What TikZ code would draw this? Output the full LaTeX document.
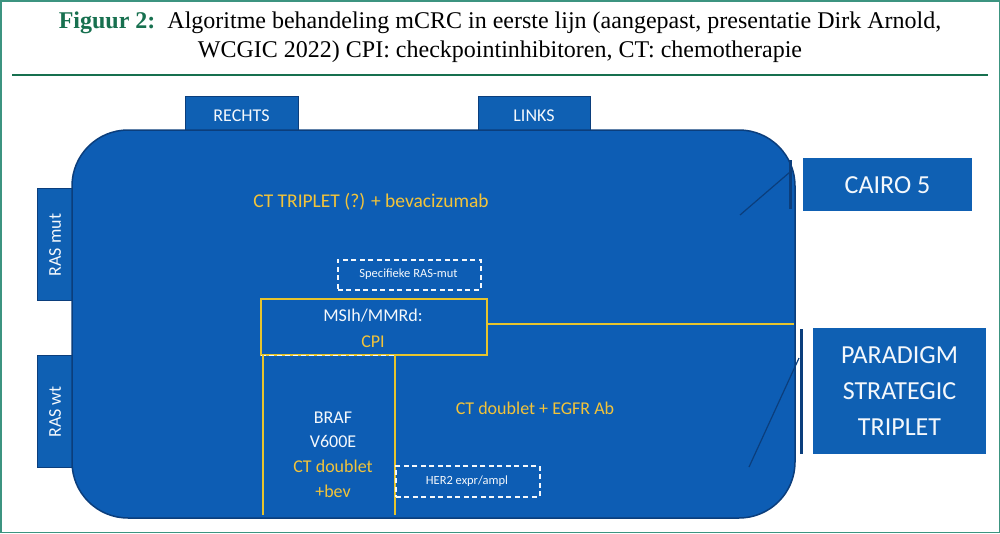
\documentclass[tikz,border=0pt]{standalone}
\usepackage{fontspec}
\setmainfont{Liberation Serif}
\newfontfamily\carlitofont{Carlito}
\definecolor{framegreen}{HTML}{3C9480}
\definecolor{titlegreen}{HTML}{17704F}
\definecolor{boxblue}{HTML}{0D5DB4}
\definecolor{tabblue}{HTML}{0F60B3}
\definecolor{edgeblue}{HTML}{0B3E7C}
\definecolor{gold}{HTML}{F2C33A}
\definecolor{goldline}{HTML}{E6C42E}
\definecolor{paleWhite}{HTML}{F4F8FC}
\tikzset{
  px/.style={x=1pt,y=-1pt},
  tabbox/.style={draw=edgeblue,line width=1pt,fill=tabblue,inner sep=0pt},
  sidebox/.style={fill=tabblue,inner sep=0pt},
  goldtxt/.style={text=gold,font=\carlitofont\fontsize{18}{24}\selectfont,align=center},
  whitetxt/.style={text=paleWhite,font=\carlitofont\fontsize{18}{24}\selectfont,align=center},
  dashbox/.style={draw=paleWhite,dash pattern=on 5pt off 3.5pt,line width=1.6pt,inner sep=0pt},
  smalltxt/.style={text=paleWhite,font=\carlitofont\fontsize{12.5}{14}\selectfont},
  goldrule/.style={draw=goldline,line width=1.8pt},
  pointer/.style={draw=edgeblue,line width=1.2pt},
  bar/.style={draw=edgeblue,line width=3pt},
}
\begin{document}
\begin{tikzpicture}[px]
\useasboundingbox (0,0) rectangle (1000,533);
\fill[white] (0,0) rectangle (1000,533);
\draw[framegreen,line width=1.5pt] (0.75,0.75) rectangle (999.25,532.25);
% title
\node[font=\fontsize{24}{29}\selectfont,align=center,inner sep=0pt] (title) at (500,37)
  {{\bfseries\color{titlegreen}Figuur 2:}\ \ Algoritme behandeling mCRC in eerste lijn (aangepast, presentatie Dirk Arnold,\\
   WCGIC 2022) CPI: checkpointinhibitoren, CT: chemotherapie};
\draw[titlegreen,line width=2.5pt] (12,75) -- (988,75);
% tabs
\node[tabbox,minimum width=113pt,minimum height=40pt,anchor=north west] (rechts) at (185,96) {};
\node[tabbox,minimum width=112pt,minimum height=40pt,anchor=north west] (links) at (478,96) {};
\node[tabbox,minimum width=40pt,minimum height=112pt,anchor=north west] (rasmut) at (37,188) {};
\node[tabbox,minimum width=40pt,minimum height=112pt,anchor=north west] (raswt) at (37,355) {};
% main shape
\node[draw=edgeblue,line width=1.5pt,fill=boxblue,rounded corners=56pt,minimum width=723pt,minimum height=388pt,inner sep=0pt] (main) at (433.5,324) {};
% tab labels
\node[text=paleWhite,font=\carlitofont\fontsize{18}{20}\selectfont] (lr) at (241.5,116) {RECHTS};
\node[text=paleWhite,font=\carlitofont\fontsize{18}{20}\selectfont] (ll) at (534,116) {LINKS};
\node[text=paleWhite,font=\carlitofont\fontsize{18}{20}\selectfont,rotate=90] (lm) at (55,245) {RAS mut};
\node[text=paleWhite,font=\carlitofont\fontsize{18}{20}\selectfont,rotate=90] (lw) at (55,412) {RAS wt};
% texts
\node[goldtxt,font=\carlitofont\fontsize{19.5}{24}\selectfont] (triplet) at (371,202) {CT TRIPLET (?) + bevacizumab};
\node[dashbox,minimum width=143pt,minimum height=30pt,anchor=north west] (spec) at (337,259) {};
\node[smalltxt] (spect) at (408.5,274) {Specifieke RAS-mut};
\node[draw=goldline,line width=1.8pt,minimum width=226pt,minimum height=56pt,inner sep=0pt,anchor=north west] (msi) at (260,298) {};
\node[whitetxt] (msit) at (373,316) {MSIh/MMRd:};
\node[goldtxt] (cpi) at (373,342) {CPI};
\coordinate (msiout) at ([yshift=3pt]msi.east);
\coordinate (rightedge) at (794,323);
\draw[goldrule] (msiout) -- (msiout -| rightedge);
\coordinate (dl) at (261,355.5);
\coordinate (dr) at (395,355.5);
\draw[draw=paleWhite,dash pattern=on 5pt off 3pt,line width=1.5pt] (dl) -- (dr);
\coordinate (v1t) at (263,354);
\coordinate (v1b) at (263,515);
\coordinate (v2b) at (395,515);
\draw[goldrule] (v1t) -- (v1b);
\draw[goldrule] (dr) -- (v2b);
\node[whitetxt,font=\carlitofont\fontsize{18}{24.5}\selectfont] (braf) at (333,430) {BRAF\\V600E};
\node[goldtxt,font=\carlitofont\fontsize{18}{24.5}\selectfont] (bev) at (333,479) {CT doublet\\+bev};
\node[goldtxt] (egfr) at (535,408) {CT doublet + EGFR Ab};
\node[dashbox,minimum width=144pt,minimum height=31pt,anchor=north west] (her2) at (395,465) {};
\node[smalltxt] (her2t) at (467,481) {HER2 expr/ampl};
% right boxes
\node[sidebox,minimum width=169pt,minimum height=53pt,anchor=north west] (cairo) at (803,158) {};
\node[text=paleWhite,font=\carlitofont\fontsize{26}{30}\selectfont] (cairot) at (887.5,185) {CAIRO 5};
\node[sidebox,minimum width=173pt,minimum height=126pt,anchor=north west] (paradigm) at (813,328) {};
\node[text=paleWhite,font=\carlitofont\fontsize{26}{36}\selectfont,align=center] (part) at (899.5,391) {PARADIGM\\STRATEGIC\\TRIPLET};
% brackets and pointers
\coordinate (b1t) at (790,160); \coordinate (b1b) at (790,209);
\draw[bar] (b1t) -- (b1b);
\coordinate (p1s) at (740,215); \coordinate (p1e) at (790,172);
\draw[pointer] (p1s) -- (p1e);
\coordinate (b2t) at (801,329); \coordinate (b2b) at (801,454);
\draw[bar] (b2t) -- (b2b);
\coordinate (p2s) at (749,467); \coordinate (p2e) at (799,358);
\draw[pointer] (p2s) -- (p2e);
\end{tikzpicture}
\end{document}
